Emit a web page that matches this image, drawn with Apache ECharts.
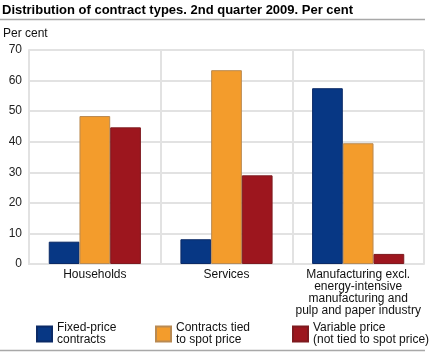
<!DOCTYPE html>
<html>
<head>
<meta charset="utf-8">
<script src="https://cdn.jsdelivr.net/npm/echarts@6/dist/echarts.min.js"></script>
<style>
  html, body {margin:0; padding:0; background:#fff;}
  #main {width:430px; height:353px;}
</style>
</head>
<body>
<div id="main"></div>
<script type="text/javascript">
  var categories = ['Households', 'Services', 'Manufacturing excl.\nenergy-intensive\nmanufacturing and\npulp and paper industry'];
  var seriesNames = ['Fixed-price\ncontracts', 'Contracts tied\nto spot price', 'Variable price\n(not tied to spot price)'];
  var fixedPrice = [7.3, 8.1, 57.5];
  var spotPrice = [48.4, 63.4, 39.5];
  var variablePrice = [44.7, 29.0, 3.3];
  var yTicks = {min: 0, max: 70, interval: 10};

  var colors = ['#073784', '#f39c2c', '#9d161e'];
  var borders = ['#0b2a66', '#b98a52', '#7e1a1f'];
  var values = [fixedPrice, spotPrice, variablePrice];

  var chart = echarts.init(document.getElementById('main'));

  var series = [];
  var legends = [];
  var legendLeft = [36, 155, 292];
  for (var i = 0; i < 3; i++) {
    series.push({
      name: seriesNames[i],
      type: 'bar',
      data: values[i],
      barGap: 0,
      barCategoryGap: '30%',
      itemStyle: {color: colors[i], borderColor: borders[i], borderWidth: 1}
    });
    legends.push({
      data: [seriesNames[i]],
      left: legendLeft[i],
      top: 322,
      itemWidth: 15,
      itemHeight: 15,
      icon: 'rect',
      padding: 0,
      selectedMode: false,
      textStyle: {fontFamily: 'Liberation Sans, Arial', fontSize: 12, color: '#111', lineHeight: 12}
    });
  }

  var option = {
    animation: false,
    color: colors,
    title: {
      text: 'Distribution of contract types. 2nd quarter 2009. Per cent',
      left: 2, top: 4, padding: 0,
      textStyle: {fontFamily: 'Liberation Sans, Arial', fontSize: 13, fontWeight: 'bold', color: '#000'}
    },
    graphic: [
      {type: 'line', shape: {x1: 0, y1: 19.5, x2: 425, y2: 19.5}, style: {stroke: '#a8a8a8', lineWidth: 1.5}},
      {type: 'line', shape: {x1: 0, y1: 350.5, x2: 425, y2: 350.5}, style: {stroke: '#a8a8a8', lineWidth: 1.5}},
      {type: 'text', left: 3, top: 28, style: {text: 'Per cent', font: '12px "Liberation Sans", Arial', fill: '#111'}}
    ],
    legend: legends,
    grid: {left: 29, right: 6, top: 50, bottom: 89},
    xAxis: {
      type: 'category',
      data: categories,
      axisTick: {show: false},
      axisLine: {lineStyle: {color: '#e2e2e2', width: 2}},
      splitLine: {show: true, lineStyle: {color: '#e2e2e2', width: 2}},
      axisLabel: {interval: 0, margin: 5, fontFamily: 'Liberation Sans, Arial', fontSize: 12, lineHeight: 12, color: '#111'}
    },
    yAxis: {
      type: 'value',
      min: yTicks.min,
      max: yTicks.max,
      interval: yTicks.interval,
      axisLine: {show: true, lineStyle: {color: '#e2e2e2', width: 2}},
      axisTick: {show: false},
      splitLine: {lineStyle: {color: '#e2e2e2', width: 2}},
      axisLabel: {margin: 7, fontFamily: 'Liberation Sans, Arial', fontSize: 12, color: '#222'}
    },
    series: series
  };
  chart.setOption(option);
</script>
</body>
</html>
